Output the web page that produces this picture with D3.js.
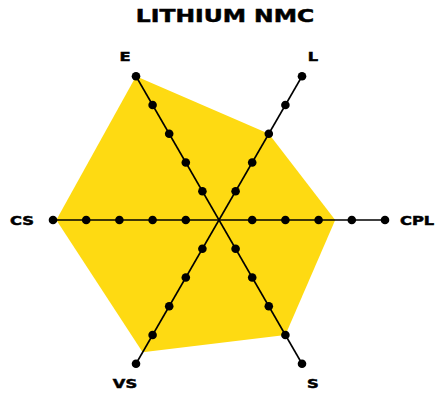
<!DOCTYPE html>
<html>
<head>
<meta charset="utf-8">
<script src="https://cdn.jsdelivr.net/npm/d3@7"></script>
<style>
  body { margin: 0; background: #fff; }
  text { font-family: "DejaVu Sans", sans-serif; font-weight: bold; fill: #000;
         stroke: #000; stroke-width: 0.5px; }
</style>
</head>
<body>
<div id="chart"></div>
<script>
// radar for one chemistry, six axes, scored 0..5
var title = "LITHIUM NMC";
var axisNames = ["E", "L", "CPL", "S", "VS", "CS"];
var scores = [5, 3, 3.5, 4, 4.6, 4.9];
var levels = [1, 2, 3, 4, 5];

var width = 436, height = 394;
var cx = 219, cy = 220;
var stretch = 1.3; // the original lettering is a wide face, so widen ours

var rScale = d3.scaleLinear().domain([0, 5]).range([0, 166]);
// first axis points up-left, then go clockwise in 60 degree steps
var angle = function(i) { return (120 - i * 60) * Math.PI / 180; };
var px = function(i, v) { return cx + rScale(v) * Math.cos(angle(i)); };
var py = function(i, v) { return cy - rScale(v) * Math.sin(angle(i)); };

var svg = d3.select("#chart").append("svg")
    .attr("width", width)
    .attr("height", height);

var widen = function(sel) {
    sel.each(function() {
        var w = this.getComputedTextLength();
        d3.select(this)
          .attr("textLength", w * stretch)
          .attr("lengthAdjust", "spacingAndGlyphs");
    });
};

svg.append("text")
   .attr("x", 225)
   .attr("y", 22)
   .attr("text-anchor", "middle")
   .style("font-size", "18px")
   .text(title)
   .call(widen);

// yellow score shape goes underneath the spokes
svg.append("path")
   .datum(scores)
   .attr("d", d3.line()
       .x(function(d, i) { return px(i, d); })
       .y(function(d, i) { return py(i, d); })
       .curve(d3.curveLinearClosed))
   .style("fill", "#FEDA12")
   .style("stroke", "none");

var spoke = svg.append("g").selectAll("g")
    .data(axisNames)
    .enter().append("g");

spoke.append("line")
     .attr("x1", cx)
     .attr("y1", cy)
     .attr("x2", function(d, i) { return px(i, 5); })
     .attr("y2", function(d, i) { return py(i, 5); })
     .style("stroke", "#000")
     .style("stroke-width", 1.6);

spoke.each(function(d, i) {
    d3.select(this).selectAll("circle")
      .data(levels)
      .enter().append("circle")
      .attr("cx", function(l) { return px(i, l); })
      .attr("cy", function(l) { return py(i, l); })
      .attr("r", 4.3)
      .style("fill", "#000");
});

// labels: side ones hang off the end, diagonal ones sit past the tip
spoke.append("text")
     .attr("x", function(d, i) {
         var c = Math.cos(angle(i));
         if (Math.abs(c) > 0.99) return px(i, 5) + (c > 0 ? 15 : -19);
         return cx + (rScale(5) + 22) * c;
     })
     .attr("y", function(d, i) {
         var s = Math.sin(angle(i));
         if (Math.abs(s) < 0.01) return cy;
         return cy - (rScale(5) + 23) * s;
     })
     .attr("dy", "0.36em")
     .attr("text-anchor", function(d, i) {
         var c = Math.cos(angle(i));
         if (Math.abs(c) > 0.99) return c > 0 ? "start" : "end";
         return "middle";
     })
     .style("font-size", "12.5px")
     .text(function(d) { return d; })
     .call(widen);
</script>
</body>
</html>
